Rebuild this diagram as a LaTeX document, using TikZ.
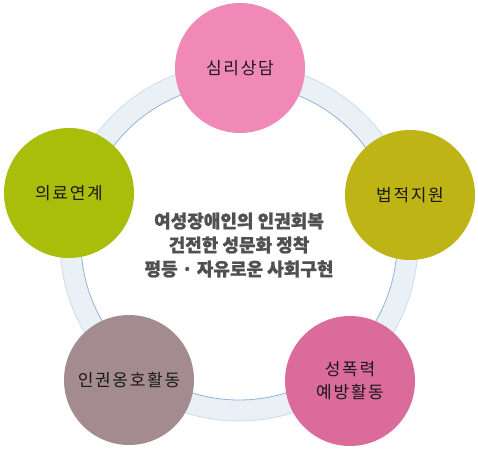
\documentclass[tikz,border=0pt]{standalone}
\usepackage{fontspec}
\setmainfont{Noto Sans CJK KR}[BoldFeatures={FakeBold=1.2}]
\usepackage{tikz}
\usetikzlibrary{positioning}
\definecolor{softpink}{RGB}{240,137,183}
\definecolor{olivegold}{RGB}{190,180,22}
\definecolor{limegreen}{RGB}{168,190,10}
\definecolor{dustymauve}{RGB}{164,139,144}
\definecolor{rosepink}{RGB}{219,107,155}
\definecolor{ringfill}{RGB}{233,240,246}
\definecolor{ringline}{RGB}{146,178,214}
\definecolor{ringedge}{RGB}{206,220,234}
\definecolor{centergray}{RGB}{80,80,80}

\begin{document}
\begin{tikzpicture}[x=1pt,y=-1pt,
    program/.style={circle, minimum size=130pt, inner sep=0pt, align=center,
        font=\fontsize{17}{23}\selectfont\addfontfeature{LetterSpace=10}, text=black!90}]
    \useasboundingbox (0,0) rectangle (478,449);
    % ring behind the circles
    \coordinate (hub) at (239,242);
    \fill[ringfill, even odd rule] (hub) circle (179) (hub) circle (158);
    \draw[ringedge, line width=0.8pt] (hub) circle (179);
    \draw[ringline, line width=0.8pt] (hub) circle (158);
    % five programs
    \node[program, fill=softpink] (sangdam) at (240,68) {심리상담};
    \node[program, fill=olivegold] (beopjeok) at (410,195) {법적지원};
    \node[program, fill=rosepink] (yebang) at (350,381) {성폭력\\예방활동};
    \node[program, fill=dustymauve] (ongho) at (129,380) {인권옹호활동};
    \node[program, fill=limegreen] (uiryo) at (69,193) {의료연계};
    % goal in the middle
    \node[align=center, text=centergray, font=\fontsize{18}{24}\selectfont\bfseries] (goal) at (239,245)
        {여성장애인의 인권회복\\건전한 성문화 정착\\평등 · 자유로운 사회구현};
\end{tikzpicture}
\end{document}
